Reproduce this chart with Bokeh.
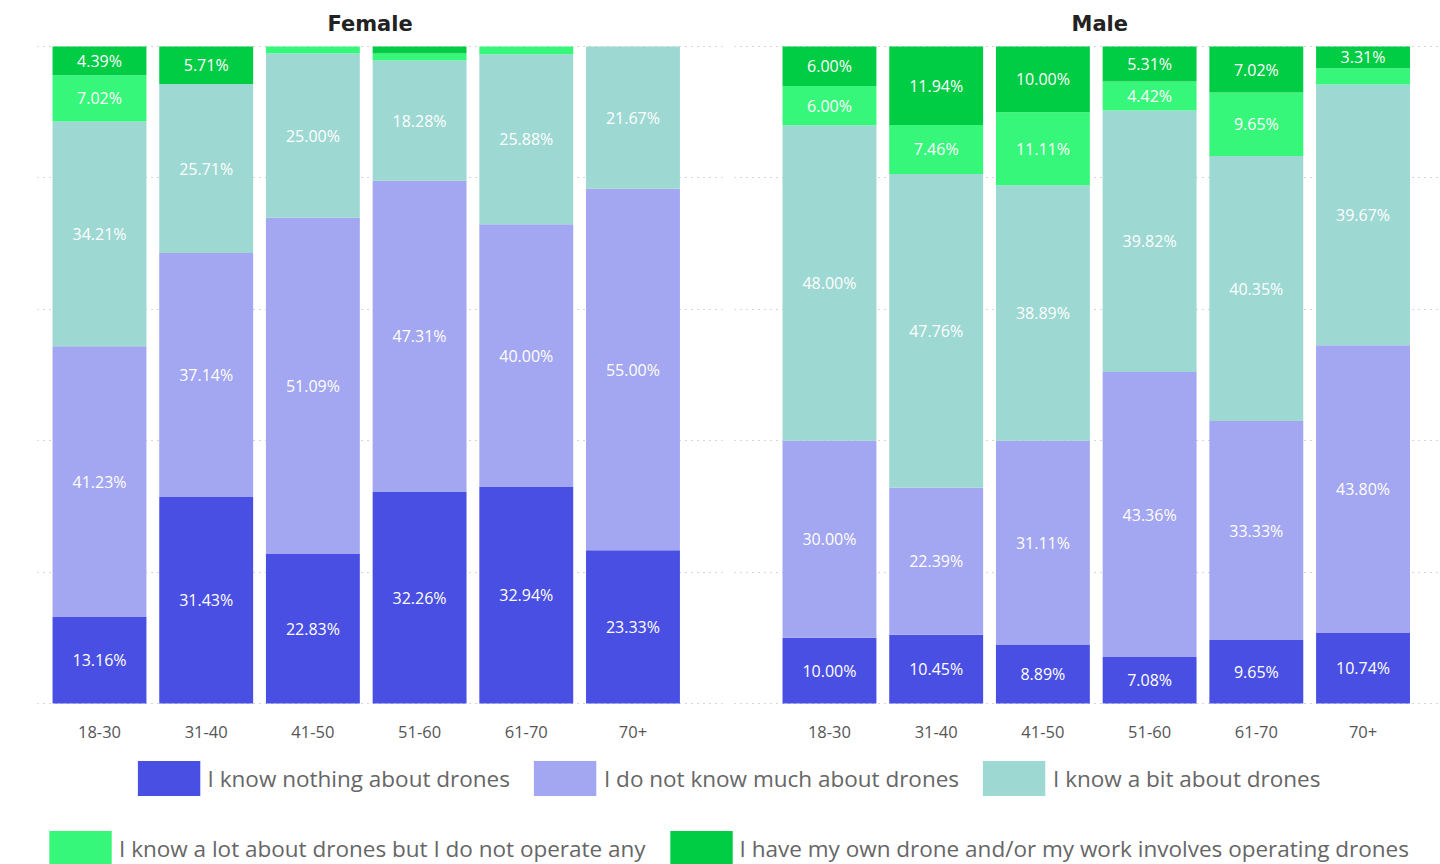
import numpy as np
from bokeh.plotting import figure
from bokeh.models import Range1d, FixedTicker, Legend, LegendItem, ColumnDataSource
from bokeh.layouts import column, row
from bokeh.embed import file_html
from bokeh.resources import INLINE
from bokeh.core.properties import value

ages = ["18-30", "31-40", "41-50", "51-60", "61-70", "70+"]
categories = [
    "I know nothing about drones",
    "I do not know much about drones",
    "I know a bit about drones",
    "I know a lot about drones but I do not operate any",
    "I have my own drone and/or my work involves operating drones",
]
colors = ["#4A4FE4", "#A3A6F0", "#9DD8D2", "#36F77A", "#00CC44"]

female_nothing = [13.16, 31.43, 22.83, 32.26, 32.94, 23.33]
female_not_much = [41.23, 37.14, 51.09, 47.31, 40.00, 55.00]
female_bit = [34.21, 25.71, 25.00, 18.28, 25.88, 21.67]
female_lot = [7.02, 0.00, 1.09, 1.08, 1.18, 0.00]
female_own = [4.39, 5.71, 0.00, 1.08, 0.00, 0.00]

male_nothing = [10.00, 10.45, 8.89, 7.08, 9.65, 10.74]
male_not_much = [30.00, 22.39, 31.11, 43.36, 33.33, 43.80]
male_bit = [48.00, 47.76, 38.89, 39.82, 40.35, 39.67]
male_lot = [6.00, 7.46, 11.11, 4.42, 9.65, 2.48]
male_own = [6.00, 11.94, 10.00, 5.31, 7.02, 3.31]

grid_ticks = [0, 20, 40, 60, 80, 100]
FONT = "Open Sans"


def panel(title, series, x_start, x_end, width, bl, br, title_offset):
    p = figure(width=width, height=746, x_range=Range1d(x_start, x_end),
               y_range=Range1d(-0.15, 100.15), output_backend="svg", toolbar_location=None,
               min_border_left=bl, min_border_right=br, min_border_top=45,
               min_border_bottom=42)
    p.title.text = title
    p.title.align = "left"
    p.title.offset = title_offset
    p.title.standoff = 19
    p.title.text_font = "DejaVu Sans"
    p.title.text_font_style = "bold"
    p.title.text_font_size = "21px"
    p.title.text_color = "#222222"
    xs = np.arange(len(ages))
    bottom = np.zeros(len(ages))
    lx, ly, lt = [], [], []
    for k, vals in enumerate(series):
        v = np.array(vals, dtype=float)
        top = bottom + v
        p.vbar(x=xs, bottom=bottom, top=top, width=0.88, fill_color=colors[k],
               line_color=None)
        for i in range(len(ages)):
            if v[i] >= 3:
                lx.append(xs[i])
                ly.append((bottom[i] + top[i]) / 2)
                lt.append(f"{v[i]:.2f}%")
        bottom = top
    src = ColumnDataSource(dict(x=lx, y=ly, t=lt))
    p.text(x="x", y="y", text="t", source=src, text_color="white",
           text_align="center", text_baseline="middle",
           text_font=value(FONT), text_font_size="16px")
    p.yaxis.visible = False
    p.xgrid.visible = False
    p.ygrid.ticker = FixedTicker(ticks=grid_ticks)
    p.ygrid.grid_line_color = "#AAAAAA"
    p.ygrid.grid_line_dash = "1 5"
    p.xaxis.ticker = FixedTicker(ticks=list(xs))
    p.xaxis.major_label_overrides = {int(i): a for i, a in zip(xs, ages)}
    p.xaxis.axis_line_color = None
    p.xaxis.major_tick_line_color = None
    p.xaxis.minor_tick_line_color = None
    p.xaxis.major_label_text_font = FONT
    p.xaxis.major_label_text_font_size = "16.5px"
    p.xaxis.major_label_text_color = "#555555"
    p.xaxis.major_label_standoff = 15
    p.outline_line_color = None
    p.background_fill_color = "white"
    p.border_fill_color = "white"
    return p


p1 = panel("Female", [female_nothing, female_not_much, female_bit, female_lot, female_own],
           -0.581, 5.839, 727, 37, 5, 290)
p2 = panel("Male", [male_nothing, male_not_much, male_bit, male_lot, male_own],
           -0.890, 5.726, 713, 7, 0, 337)

lg = figure(width=1440, height=130, x_range=Range1d(0, 1), y_range=Range1d(0, 1),
            output_backend="svg", toolbar_location=None, min_border_left=10,
            min_border_right=0, min_border_top=0, min_border_bottom=0)
lg.axis.visible = False
lg.grid.visible = False
lg.outline_line_color = None
rends = [lg.vbar(x=[-10], top=[-10], width=0.1, fill_color=c, line_color=None) for c in colors]


def make_legend(idx, margin):
    leg = Legend(items=[LegendItem(label=categories[i], renderers=[rends[i]]) for i in idx],
                 location="top_center", orientation="horizontal", glyph_width=78,
                 glyph_height=44, label_text_font=FONT, label_text_font_size="22.5px",
                 label_text_color="#666666", label_standoff=-4, spacing=16, padding=0,
                 margin=margin, border_line_alpha=0, background_fill_alpha=0)
    return leg


lg.add_layout(make_legend([0, 1, 2], 10), "center")
lg.add_layout(make_legend([3, 4], 80), "center")

layout = column(row(p1, p2), lg)
open("out.html", "w").write(file_html(layout, INLINE))
